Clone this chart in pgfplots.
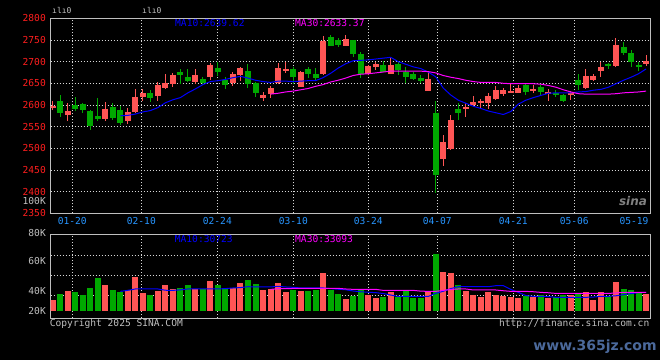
\documentclass[border=0pt]{standalone}
\usepackage{pgfplots}
\pgfplotsset{compat=1.18}
\usepackage{pgfplotstable}
\usepackage{fontspec}
\setmainfont{DejaVu Sans Mono}
\newfontfamily\wmfont{DejaVu Sans}
\definecolor{upred}{RGB}{255,85,85}
\definecolor{dngreen}{RGB}{0,168,0}
\definecolor{bord}{RGB}{190,190,190}
\definecolor{gridc}{RGB}{215,215,215}
\definecolor{labred}{RGB}{255,30,30}
\definecolor{labgray}{RGB}{192,192,192}
\definecolor{datecol}{RGB}{40,150,255}
\definecolor{maten}{RGB}{0,0,255}
\definecolor{mathirty}{RGB}{255,0,255}
\definecolor{wmblue}{RGB}{75,105,155}
\newcommand\pf{\fontsize{9.6bp}{10bp}\selectfont}

\pgfplotstableread{
x o c h l v
-3 2594 2598 2609 2588 28.5
-1 2578 2587 2604 2564 35.6
4 2567 2591 2607 2564 40.3
7 2562 2584 2593 2556 36.4
8 2583 2618 2636 2581 46.7
9 2619 2628 2636 2610 34.0
11 2621 2645 2653 2609 35.6
12 2640 2651 2671 2637 40.3
13 2649 2669 2673 2642 37.2
16 2654 2668 2683 2648 37.2
18 2665 2693 2696 2658 43.5
21 2650 2671 2675 2644 38.0
22 2668 2685 2688 2656 41.9
25 2617 2623 2630 2610 36.4
26 2625 2639 2644 2617 37.2
27 2650 2685 2698 2648 41.9
28 2678 2683 2700 2673 34.8
30 2642 2676 2678 2641 35.6
33 2671 2748 2759 2669 49.8
36 2737 2752 2761 2735 29.2
39 2671 2690 2693 2668 32.4
40 2688 2694 2698 2681 30.0
42 2672 2692 2709 2672 34.8
47 2632 2659 2675 2632 34.8
49 2475 2515 2531 2459 50.6
50 2498 2565 2577 2495 49.8
52 2591 2596 2604 2572 35.6
53 2600 2608 2621 2595 32.4
54 2605 2610 2613 2592 30.8
55 2605 2621 2628 2591 34.8
56 2614 2634 2644 2611 32.4
57 2625 2634 2640 2621 31.6
58 2628 2633 2651 2627 30.8
59 2628 2640 2646 2627 30.0
61 2632 2637 2645 2627 30.8
63 2627 2630 2636 2610 30.0
66 2623 2628 2633 2611 32.4
68 2640 2667 2682 2638 34.8
69 2658 2667 2671 2656 28.5
70 2679 2687 2700 2665 34.8
72 2691 2738 2754 2688 42.7
76 2694 2702 2715 2690 33.2
}\up

\pgfplotstableread{
x o c h l v
-2 2609 2582 2623 2573 33.2
0 2600 2591 2618 2586 34.8
1 2602 2588 2605 2581 32.4
2 2586 2552 2588 2542 38.0
3 2575 2568 2616 2564 45.9
5 2595 2569 2605 2565 36.4
6 2588 2559 2597 2553 34.8
10 2628 2617 2635 2608 32.4
14 2675 2668 2682 2648 38.0
15 2665 2655 2683 2652 40.3
17 2661 2650 2665 2646 37.2
19 2685 2675 2698 2667 40.3
20 2658 2646 2665 2638 38.0
23 2679 2648 2694 2638 44.3
24 2650 2628 2654 2619 41.1
29 2683 2665 2687 2648 36.4
31 2683 2671 2688 2663 35.6
32 2671 2663 2686 2656 36.4
34 2757 2737 2761 2735 36.4
35 2751 2738 2754 2733 33.2
37 2750 2718 2751 2711 31.6
38 2718 2671 2722 2663 36.4
41 2692 2676 2701 2675 30.8
43 2695 2681 2698 2668 30.8
44 2676 2665 2688 2651 35.6
45 2672 2660 2675 2658 30.0
46 2663 2655 2669 2650 30.0
48 2581 2438 2608 2396 64.9
51 2591 2582 2604 2565 40.3
60 2646 2631 2648 2622 31.6
62 2641 2631 2646 2621 32.4
64 2627 2622 2635 2618 30.8
65 2623 2608 2625 2607 32.4
67 2658 2646 2671 2635 33.2
71 2694 2690 2698 2682 31.6
73 2733 2721 2745 2715 37.2
74 2721 2700 2728 2687 36.4
75 2692 2690 2699 2679 34.0
}\down

\pgfplotstableread{
x p v
6 2575 35.3
7 2576 36.1
8 2579 37.2
9 2584 37.2
10 2587 37.2
11 2594 37.2
12 2605 36.2
13 2612 36.1
14 2617 36.5
15 2628 37.2
16 2637 37.2
17 2647 37.2
18 2654 37.2
19 2656 37.2
20 2659 37.5
21 2663 38.0
22 2666 38.3
23 2662 39.0
24 2657 38.8
25 2654 38.8
26 2652 38.8
27 2655 39.3
28 2655 38.8
29 2654 38.5
30 2655 38.0
31 2656 38.0
32 2656 38.0
33 2663 38.0
34 2673 37.5
35 2685 37.0
36 2695 36.6
37 2702 35.6
38 2703 35.0
39 2704 34.6
40 2706 34.3
41 2708 33.6
42 2710 32.4
43 2700 31.3
44 2694 31.3
45 2688 31.3
46 2684 31.3
47 2676 31.3
48 2665 33.7
49 2639 35.4
50 2623 37.5
51 2611 39.0
52 2604 39.0
53 2597 39.0
54 2592 39.0
55 2586 39.0
56 2582 39.8
57 2578 39.8
58 2585 36.8
59 2602 34.5
60 2611 32.0
61 2617 31.4
62 2622 31.4
63 2627 31.2
64 2628 30.6
65 2628 30.6
66 2628 30.6
67 2630 30.6
68 2631 30.6
69 2634 30.8
70 2636 31.4
71 2641 31.4
72 2649 31.8
73 2657 32.7
74 2664 33.5
75 2672 34.3
76 2683 34.5
}\maten

\pgfplotstableread{
x p v
26 2625 36.9
27 2627 37.4
28 2630 37.4
29 2632 37.6
30 2635 37.7
31 2638 37.7
32 2643 37.7
33 2647 37.7
34 2653 37.7
35 2657 37.7
36 2662 37.2
37 2668 36.9
38 2671 36.9
39 2672 36.9
40 2674 36.9
41 2676 36.1
42 2678 36.1
43 2678 36.1
44 2678 36.1
45 2678 36.1
46 2678 35.5
47 2677 35.3
48 2674 35.3
49 2668 36.1
50 2664 36.8
51 2661 37.2
52 2657 37.2
53 2654 36.4
54 2652 36.4
55 2652 36.4
56 2652 36.4
57 2650 35.8
58 2649 35.3
59 2649 35.3
60 2649 35.3
61 2649 35.0
62 2648 34.5
63 2645 34.2
64 2641 33.7
65 2635 33.7
66 2630 33.7
67 2626 33.7
68 2625 33.7
69 2625 33.7
70 2625 33.7
71 2625 33.7
72 2626 34.0
73 2628 34.5
74 2629 34.5
75 2630 34.5
76 2632 34.5
}\mathirty

\pgfplotsset{
  sina/.style={
    scale only axis, width=599.3bp,
    xmin=-3.27, xmax=76.53,
    axis line style={draw=bord, line width=1bp},
    grid style={draw=gridc, line width=0.9bp, dash pattern=on 0.9bp off 2.1bp},
    major tick length=0pt,
    xmajorgrids, ymajorgrids,
    xtick={-0.39,8.80,18.92,29.04,39.02,48.21,58.33,66.45},
    tick label style={font=\pf},
    yticklabel style={anchor=east, inner sep=0pt, xshift=-4.7bp},
    /pgf/number format/assume math mode=true,
    /pgf/number format/1000 sep={},
  },
  body/.style={draw=none, mark=none, error bars/.cd, y dir=both, y explicit, error mark=none,
    error bar style={line width=6bp, draw=#1, solid}},
  wick/.style={draw=none, mark=none, error bars/.cd, y dir=both, y explicit, error mark=none,
    error bar style={line width=1bp, draw=#1, solid}},
}

\begin{document}
\begin{tikzpicture}[x=1bp,y=1bp]
\fill[black] (0,0) rectangle (660,360);

% price panel
\begin{axis}[sina,
  at={(50.7bp,146.7bp)}, anchor=south west, height=195bp,
  ymin=2350, ymax=2800,
  ytick={2350,2400,...,2800},
  yticklabel style={text=labred},
  xticklabels={01-20,02-10,02-24,03-10,03-24,04-07,04-21,05-06},
  xticklabel style={text=datecol, anchor=north, inner sep=0pt, yshift=-4.2bp},
  extra x ticks={74.4}, extra x tick labels={05-19},
  extra x tick style={grid=none},
]
\addplot[wick=upred] table[x=x, y expr={(\thisrow{h}+\thisrow{l})/2}, y error expr={(\thisrow{h}-\thisrow{l})/2}] {\up};
\addplot[body=upred] table[x=x, y expr={(\thisrow{o}+\thisrow{c})/2}, y error expr={max(abs(\thisrow{c}-\thisrow{o})/2,1.1)}] {\up};
\addplot[wick=dngreen] table[x=x, y expr={(\thisrow{h}+\thisrow{l})/2}, y error expr={(\thisrow{h}-\thisrow{l})/2}] {\down};
\addplot[body=dngreen] table[x=x, y expr={(\thisrow{o}+\thisrow{c})/2}, y error expr={max(abs(\thisrow{c}-\thisrow{o})/2,1.1)}] {\down};
\addplot[maten, line width=1bp, mark=none] table[x=x, y=p] {\maten};
\addplot[mathirty, line width=1bp, mark=none] table[x=x, y=p] {\mathirty};
\end{axis}

% volume panel
\begin{axis}[sina,
  at={(50.7bp,42bp)}, anchor=south west, height=83.3bp,
  ymin=14.2, ymax=80.2,
  ytick={32.2,48.06,63.9}, yticklabels={},
  xticklabels={},
  extra y ticks={20,35.85,59.6,80.2},
  extra y tick labels={20K,40K,60K,\raisebox{4bp}{80K}},
  extra y tick style={grid=none, yticklabel style={text=labgray}},
]
\addplot[body=upred] table[x=x, y expr={(\thisrow{v}+20)/2}, y error expr={(\thisrow{v}-20)/2}] {\up};
\addplot[body=dngreen] table[x=x, y expr={(\thisrow{v}+20)/2}, y error expr={(\thisrow{v}-20)/2}] {\down};
\addplot[maten, line width=1bp, mark=none] table[x=x, y=v] {\maten};
\addplot[mathirty, line width=1bp, mark=none] table[x=x, y=v] {\mathirty};
\end{axis}

% texts
\node[anchor=west, inner sep=0pt, text=maten, font=\pf] at (175,336.7) {MA10:2639.62};
\node[anchor=west, inner sep=0pt, text=mathirty, font=\pf] at (295,336.7) {MA30:2633.37};
\node[anchor=west, inner sep=0pt, text=maten, font=\pf] at (174.7,121.3) {MA10:30723};
\node[anchor=west, inner sep=0pt, text=mathirty, font=\pf] at (295,121.3) {MA30:33093};
\node[anchor=east, inner sep=0pt, text=labgray, font=\pf] at (46,159.3) {100K};
\node[anchor=west, inner sep=0pt, text=labgray, font=\fontsize{8bp}{9bp}\selectfont] at (52,350) {ılı0};
\node[anchor=west, inner sep=0pt, text=labgray, font=\fontsize{8bp}{9bp}\selectfont] at (142,350) {ılı0};
\node[anchor=west, inner sep=0pt, text=labgray, font=\pf] at (49.7,36) {Copyright 2025 SINA.COM};
\node[anchor=east, inner sep=0pt, text=labgray, font=\pf] at (649.5,36) {http://finance.sina.com.cn};
\node[inner sep=0pt, text=gray, font=\wmfont\bfseries\itshape\fontsize{12bp}{13bp}\selectfont] at (633,159) {sina};
\node[inner sep=0pt, text=wmblue, font=\wmfont\bfseries\fontsize{14bp}{15bp}\selectfont] at (595,13) {www.365jz.com};
\end{tikzpicture}
\end{document}
